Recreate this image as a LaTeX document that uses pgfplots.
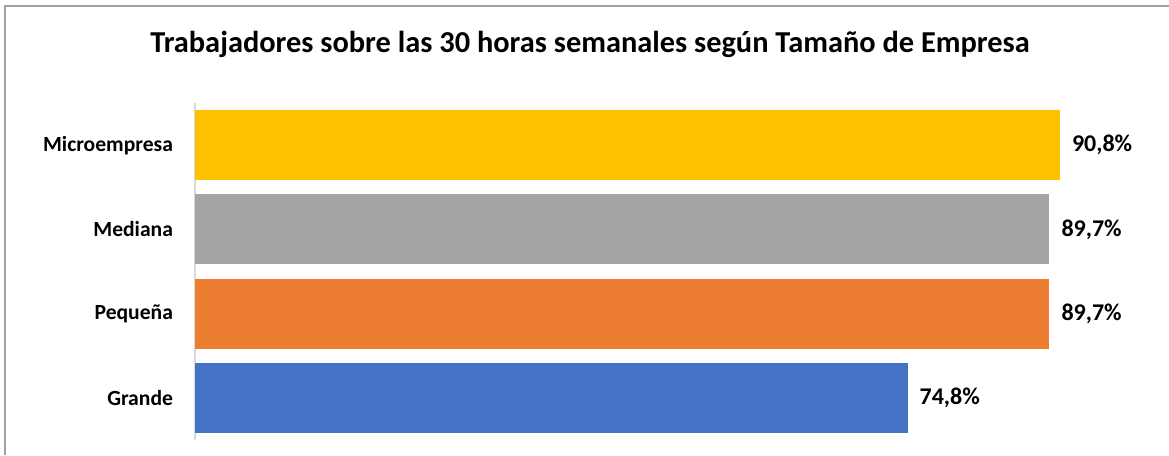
\documentclass[border=0pt]{standalone}
\usepackage{pgfplots}
\pgfplotsset{compat=1.18}
\usepackage{fontspec}
\setmainfont{Carlito}

\definecolor{cMicro}{HTML}{FFC000}
\definecolor{cMed}{HTML}{A5A5A5}
\definecolor{cPeq}{HTML}{ED7D31}
\definecolor{cGra}{HTML}{4472C4}
\definecolor{frame}{HTML}{A0A0A0}
\definecolor{axln}{HTML}{D9D9D9}

% 1 px of the reference = 0.75pt
\begin{document}
\begin{tikzpicture}[x=0.75pt,y=0.75pt]
\useasboundingbox (0,0) rectangle (1169,455);
\draw[frame, line width=1.5pt] (5,0) -- (5,449.5);
\draw[frame, line width=1.5pt] (4,449.5) -- (1169,449.5);

\node[font=\bfseries\fontsize{22.8}{27}\selectfont, anchor=base] at (590,403) {Trabajadores sobre las 30 horas semanales según Tamaño de Empresa};

\begin{axis}[
  at={(146.25pt,11.25pt)}, anchor=south west,
  scale only axis,
  width=714.45pt, height=252.75pt,
  xmin=0, xmax=100,
  ymin=-0.5, ymax=3.5,
  xbar, bar width=0.83, bar shift=0pt,
  axis x line=none,
  axis y line*=left,
  y axis line style={axln, line width=0.9pt},
  ytick={0,1,2,3},
  yticklabels={Grande,Pequeña,Mediana,Microempresa},
  major tick length=0pt,
  yticklabel style={font=\bfseries\fontsize{16.2}{19}\selectfont, xshift=-13pt},
  point meta=explicit symbolic,
  nodes near coords,
  every node near coord/.append style={font=\bfseries\fontsize{18}{21}\selectfont, black, anchor=west, xshift=5.5pt},
  clip=false,
]
\addplot[fill=cGra, draw=none] coordinates {(74.8,0) [74,8\%]};
\addplot[fill=cPeq, draw=none] coordinates {(89.7,1) [89,7\%]};
\addplot[fill=cMed, draw=none] coordinates {(89.7,2) [89,7\%]};
\addplot[fill=cMicro, draw=none] coordinates {(90.8,3) [90,8\%]};
\end{axis}
\end{tikzpicture}
\end{document}
